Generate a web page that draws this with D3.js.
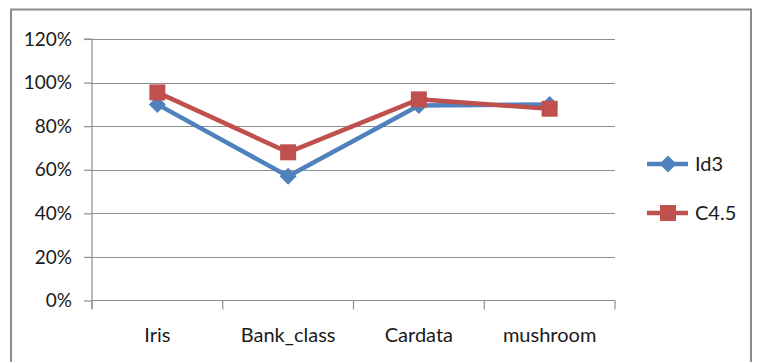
<!DOCTYPE html>
<html><head><meta charset="utf-8">
<script src="https://cdn.jsdelivr.net/npm/d3@7"></script>
<style>
html,body{margin:0;padding:0;background:#fff;}
svg text{font-family:Lato,"Open Sans",sans-serif;fill:#1a1a1a;}
</style></head>
<body><svg id="c" width="757" height="362"></svg>
<script>
const categories = ["Iris","Bank_class","Cardata","mushroom"];
const id3Values = [0.90, 0.57, 0.895, 0.90];
const c45Values = [0.955, 0.68, 0.923, 0.88];
const seriesNames = ["Id3","C4.5"];
const yTicks = [0,0.2,0.4,0.6,0.8,1.0,1.2];

(function(){
const svg = d3.select("#c");
// outer frame
svg.append("rect").attr("x",11).attr("y",9.5).attr("width",740).attr("height",370)
  .attr("fill","none").attr("stroke","#8c8c8c").attr("stroke-width",2);

const pL = 92, pR = 615, pT = 39, pB = 300.5;
const x = d3.scaleBand().domain(categories).range([pL,pR]).padding(0);
const y = d3.scaleLinear().domain([0,1.2]).range([pB,pT]);

// gridlines
svg.append("g").selectAll("line").data(yTicks.filter(d=>d>0)).join("line")
  .attr("x1",pL).attr("x2",pR).attr("y1",d=>Math.round(y(d))+0.5).attr("y2",d=>Math.round(y(d))+0.5)
  .attr("stroke","#8e8e8e").attr("stroke-width",1.2);

// y axis
const yAxis = d3.axisLeft(y).tickValues(yTicks).tickFormat(d3.format(".0%")).tickSize(8).tickPadding(12);
const gy = svg.append("g").attr("transform",`translate(${pL},0)`).call(yAxis);
gy.selectAll("text").attr("font-size",19).style("font-family","Lato,sans-serif").attr("fill","#1a1a1a");
gy.select(".domain").attr("stroke","#8e8e8e").attr("stroke-width",1.2).attr("d",`M-8,${pT}H0V${pB+8}`);
gy.selectAll(".tick line").attr("stroke","#8e8e8e").attr("stroke-width",1.2);

// x axis
const xAxis = d3.axisBottom(x).tickSize(0).tickPadding(27);
const gx = svg.append("g").attr("transform",`translate(0,${pB})`).call(xAxis);
gx.select(".domain").attr("stroke","#8e8e8e").attr("stroke-width",1.2).attr("d",`M${pL},0H${pR}`);
gx.selectAll("text").attr("font-size",20).attr("dy","0.71em").style("font-family","Lato,sans-serif").attr("fill","#1a1a1a");
// category boundary ticks
const bounds = categories.map(c=>x(c)).concat([pR]);
gx.append("g").selectAll("line").data(bounds).join("line")
  .attr("x1",d=>d).attr("x2",d=>d).attr("y1",0).attr("y2",9)
  .attr("stroke","#8e8e8e").attr("stroke-width",1.2);

const cx = c => x(c) + x.bandwidth()/2;
const line = d3.line().x((d,i)=>cx(categories[i])).y(d=>y(d));
const blue = "#4f81bd", red = "#c0504d";

function diamond(g, px, py, s){
  g.append("path").attr("d",`M${px},${py-s}L${px+s},${py}L${px},${py+s}L${px-s},${py}Z`).attr("fill",blue);
}
function square(g, px, py, s){
  g.append("rect").attr("x",px-s).attr("y",py-s).attr("width",2*s).attr("height",2*s).attr("fill",red);
}

const plot = svg.append("g");
plot.append("path").attr("d",line(id3Values)).attr("fill","none").attr("stroke",blue).attr("stroke-width",4.5).attr("stroke-linejoin","round");
id3Values.forEach((v,i)=>diamond(plot, cx(categories[i]), y(v), 8.5));
plot.append("path").attr("d",line(c45Values)).attr("fill","none").attr("stroke",red).attr("stroke-width",4.5).attr("stroke-linejoin","round");
c45Values.forEach((v,i)=>square(plot, cx(categories[i]), y(v), 8));

// legend
const leg = svg.append("g");
const legY = [164, 213];
leg.append("line").attr("x1",647).attr("x2",688).attr("y1",legY[0]).attr("y2",legY[0]).attr("stroke",blue).attr("stroke-width",4.5);
diamond(leg, 668, legY[0], 8.5);
leg.append("line").attr("x1",647).attr("x2",688).attr("y1",legY[1]).attr("y2",legY[1]).attr("stroke",red).attr("stroke-width",4.5);
square(leg, 668, legY[1], 8);
leg.selectAll("text.l").data(seriesNames).join("text").attr("class","l")
  .attr("x",695).attr("y",(d,i)=>legY[i]).attr("dy","0.36em").attr("font-size",20).text(d=>d);
})();
</script></body></html>
